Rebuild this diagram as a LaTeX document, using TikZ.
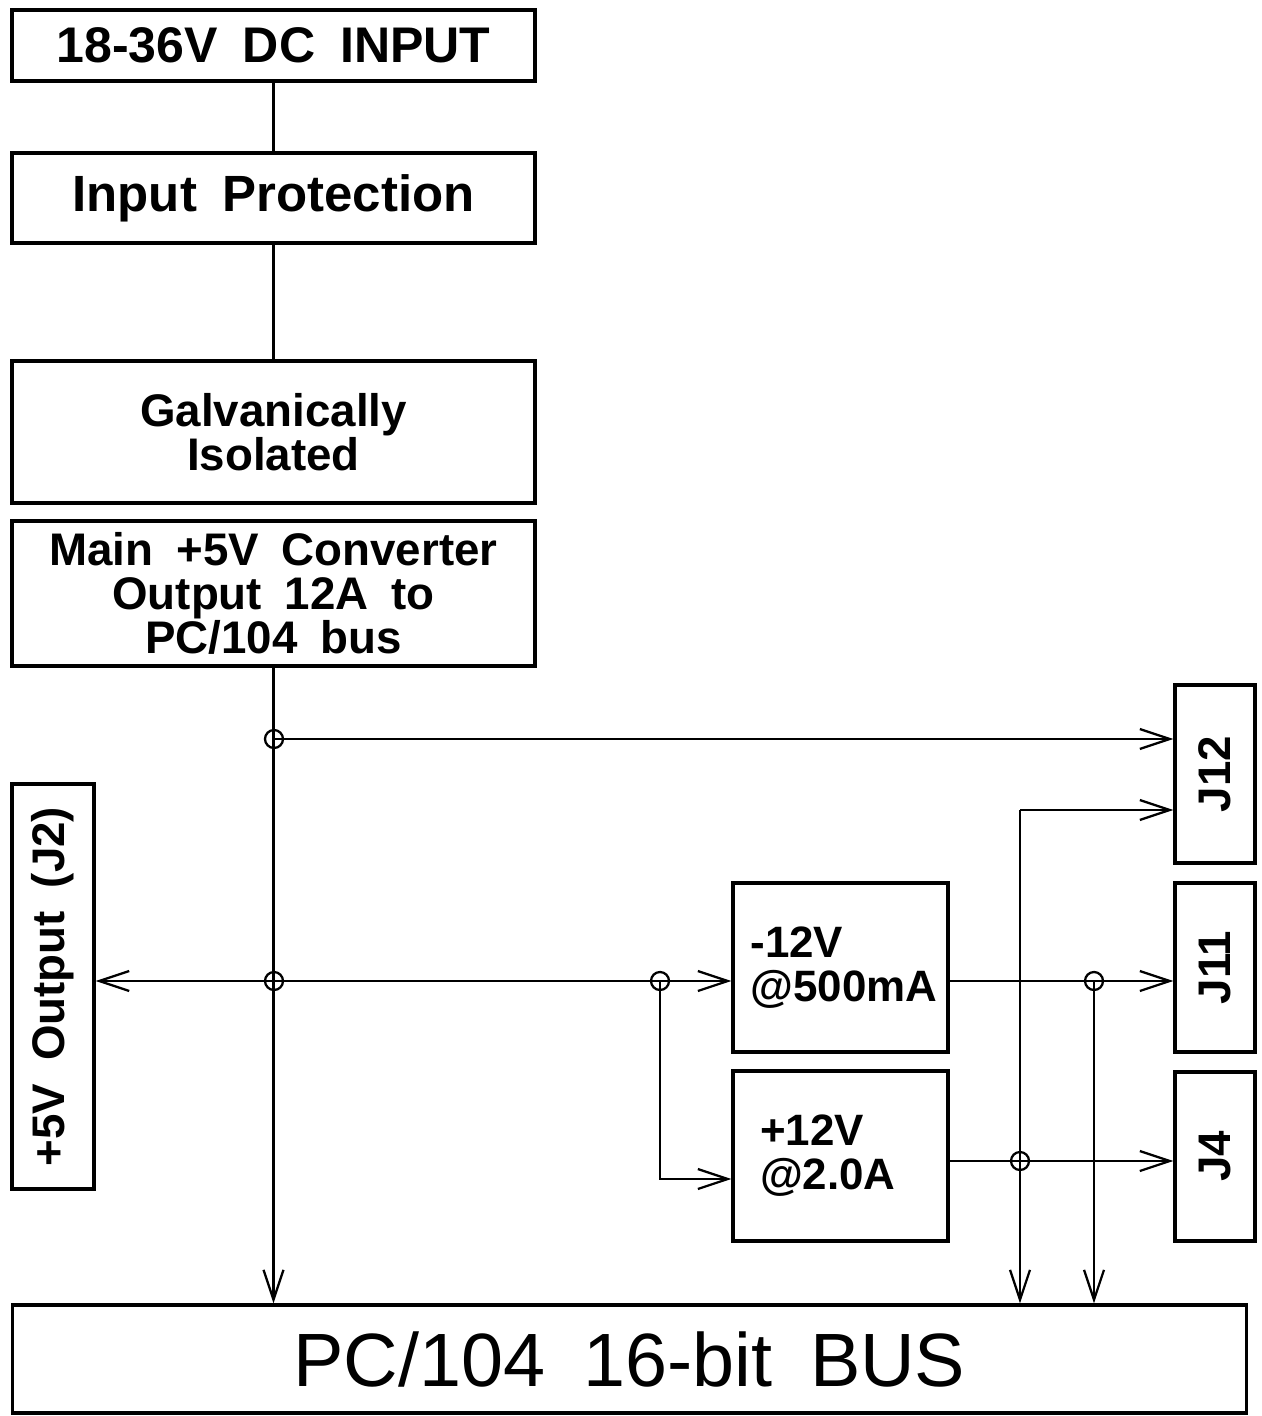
\documentclass[tikz,border=0pt]{standalone}
\usepackage{fontspec}
\setmainfont{Liberation Sans}[WordSpace=1.8]
\usetikzlibrary{arrows.meta}

\begin{document}
\begin{tikzpicture}[x=0.02cm, y=-0.02cm, line width=1.6pt,
    >={Straight Barb[length=6mm, width=4mm, line width=1.3pt]},
    blk/.style={draw, line width=1.8pt, inner sep=0pt, align=center,
      font=\bfseries\fontsize{26}{25}\selectfont}]
    \useasboundingbox (0,0) rectangle (1261,1416);

    \node[blk, minimum width=10.46cm, minimum height=1.42cm,
      font=\bfseries\fontsize{28.5}{30}\selectfont] (dcin) at (273.5,45.5) {18-36V DC INPUT};
    \node[blk, minimum width=10.46cm, minimum height=1.8cm,
      font=\bfseries\fontsize{29}{31}\selectfont] (prot) at (273.5,198) {Input Protection};
    \node[blk, minimum width=10.46cm, minimum height=2.84cm] (galv) at (273.5,432) {Galvanically\\Isolated};
    \node[blk, minimum width=10.46cm, minimum height=2.9cm] (conv) at (273.5,593.5) {Main +5V Converter\\Output 12A to\\PC/104 bus};
    \node[blk, minimum width=1.64cm, minimum height=8.1cm] (outj2) at (53,986.5) {\rotatebox{90}{+5V Output (J2)}};

    \node[blk, minimum width=1.6cm, minimum height=3.56cm] (j12) at (1215,774) {\rotatebox{90}{J12}};
    \node[blk, minimum width=1.6cm, minimum height=3.38cm] (j11) at (1215,967.5) {\rotatebox{90}{J11}};
    \node[blk, minimum width=1.6cm, minimum height=3.38cm] (j4) at (1215,1156.5) {\rotatebox{90}{J4}};

    \node[blk, minimum width=4.3cm, minimum height=3.38cm, text width=3.6cm, align=left,
      font=\bfseries\fontsize{25}{25}\selectfont] (neg) at (840.5,967.5) {-12V\\@500mA};
    \node[blk, minimum width=4.3cm, minimum height=3.4cm, text width=3.22cm, align=left,
      font=\bfseries\fontsize{25}{25}\selectfont] (pos) at (840.5,1156) {+12V\\@2.0A};

    \node[blk, minimum width=24.7cm, minimum height=2.16cm,
      font=\fontsize{43}{45}\selectfont] (bus) at (629.5,1359) {PC/104 16-bit BUS};

    % junctions
    \coordinate (ja) at (274,739);
    \coordinate (jb) at (274,981);
    \coordinate (jc) at (660,981);
    \coordinate (jd) at (1094,981);
    \coordinate (je) at (1020,1161);
    \coordinate (jf) at (1020,810);
    \coordinate (jg) at (660,1179);

    \draw (dcin) -- (prot);
    \draw (prot) -- (galv);
    \draw[->] (conv.south) -- (conv.south |- bus.north);

    \draw[->] (ja) -- (ja -| j12.west);
    \draw[->] (jb) -- (jb -| outj2.east);
    \draw[->] (jb) -- (jb -| neg.west);
    \draw[->] (jc) -- (jg) -- (jg -| pos.west);
    \draw[->] (neg.east |- jb) -- (jb -| j11.west);
    \draw[->] (jd) -- (jd |- bus.north);
    \draw[->] (pos.east |- je) -- (je -| j4.west);
    \draw[->] (jf) -- (jf -| j12.west);
    \draw[->] (jf) -- (jf |- bus.north);

    \foreach \j in {ja,jb,jc,jd,je}
        \draw[line width=1.3pt] (\j) circle (0.18cm);
\end{tikzpicture}
\end{document}
